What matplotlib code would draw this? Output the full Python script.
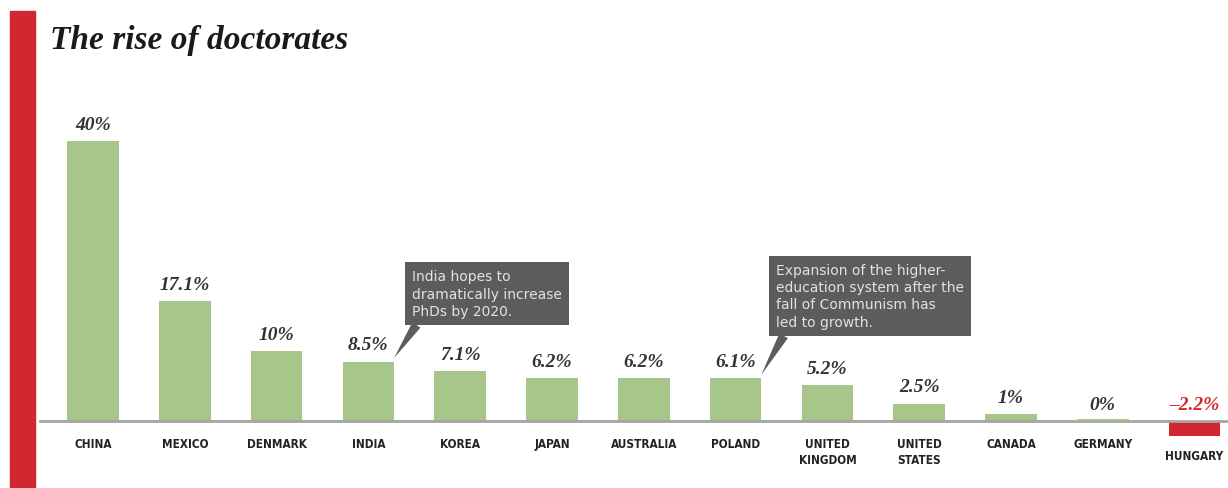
import matplotlib.pyplot as plt
from matplotlib.patches import Rectangle

countries = ['CHINA', 'MEXICO', 'DENMARK', 'INDIA', 'KOREA', 'JAPAN', 'AUSTRALIA',
             'POLAND', 'UNITED\nKINGDOM', 'UNITED\nSTATES', 'CANADA', 'GERMANY', 'HUNGARY']
growth = [40, 17.1, 10, 8.5, 7.1, 6.2, 6.2, 6.1, 5.2, 2.5, 1, 0, -2.2]
value_labels = ['40%', '17.1%', '10%', '8.5%', '7.1%', '6.2%', '6.2%', '6.1%',
                '5.2%', '2.5%', '1%', '0%', '\u20132.2%']
notes = {3: 'India hopes to\ndramatically increase\nPhDs by 2020.',
         7: 'Expansion of the higher-\neducation system after the\nfall of Communism has\nled to growth.'}

W, H = 1228, 489
green = '#a8c68a'
red = '#d22630'

fig = plt.figure(figsize=(W / 100, H / 100), dpi=100)
ax = fig.add_axes([0, 0, 1, 1])
ax.set_xlim(-93 / 91.8, (W - 93) / 91.8)
ax.set_ylim(-(H - 422) / 7, 422 / 7)
ax.axis('off')

x = list(range(len(countries)))
bw = 0.56
colors = [red if v < 0 else green for v in growth]
ax.bar(x, growth, width=bw, color=colors, zorder=2)
# germany's 0% still shows as a hairline in the original
ax.bar(x[11], 0.3, width=bw, color=green, zorder=4)
ax.axhline(0, xmin=40 / W, xmax=1, color='#a5a5a5', lw=2, zorder=3)

serif = ['Liberation Serif', 'DejaVu Serif']
narrow = ['Liberation Sans Narrow', 'DejaVu Sans']
for i, v in enumerate(growth):
    ax.annotate(value_labels[i], (i, max(v, 0)), xytext=(0, 8), textcoords='offset pixels',
                ha='center', va='bottom', fontsize=14, fontstyle='italic', fontweight='bold',
                family=serif, color=red if v < 0 else '#333333')
    ytop = -4.0 if v < 0 else -2.3
    ax.text(i, ytop, countries[i], ha='center', va='top', fontsize=8.5, fontweight='bold',
            family=narrow, fontstretch='condensed', color='#222222', linespacing=1.25)

box_offsets = {3: (18, 40), 7: (15, 46)}
for i, txt in notes.items():
    dx, dy = box_offsets[i]
    ax.annotate(txt, (i + bw / 2, growth[i] + 0.5), xytext=(dx, dy), textcoords='offset pixels',
                ha='left', va='bottom', fontsize=10, color='#e2e2e2', linespacing=1.3,
                family=['DejaVu Sans'],
                bbox=dict(boxstyle='square,pad=0.5', fc='#5c5c5c', ec='none'),
                arrowprops=dict(arrowstyle='wedge,tail_width=0.7', fc='#5c5c5c', ec='none',
                                relpos=(0.06, 0.0), shrinkA=0, shrinkB=0))

fig.patches.append(Rectangle((10 / W, 0), 25 / W, (H - 12) / H, transform=fig.transFigure,
                             color=red, zorder=5))
fig.text(50 / W, 1 - 40 / H, 'The rise of doctorates', ha='left', va='center', fontsize=24,
         fontstyle='italic', fontweight='bold', family=serif, color='#1a1a1a')

fig.savefig('out.png', dpi=100)
